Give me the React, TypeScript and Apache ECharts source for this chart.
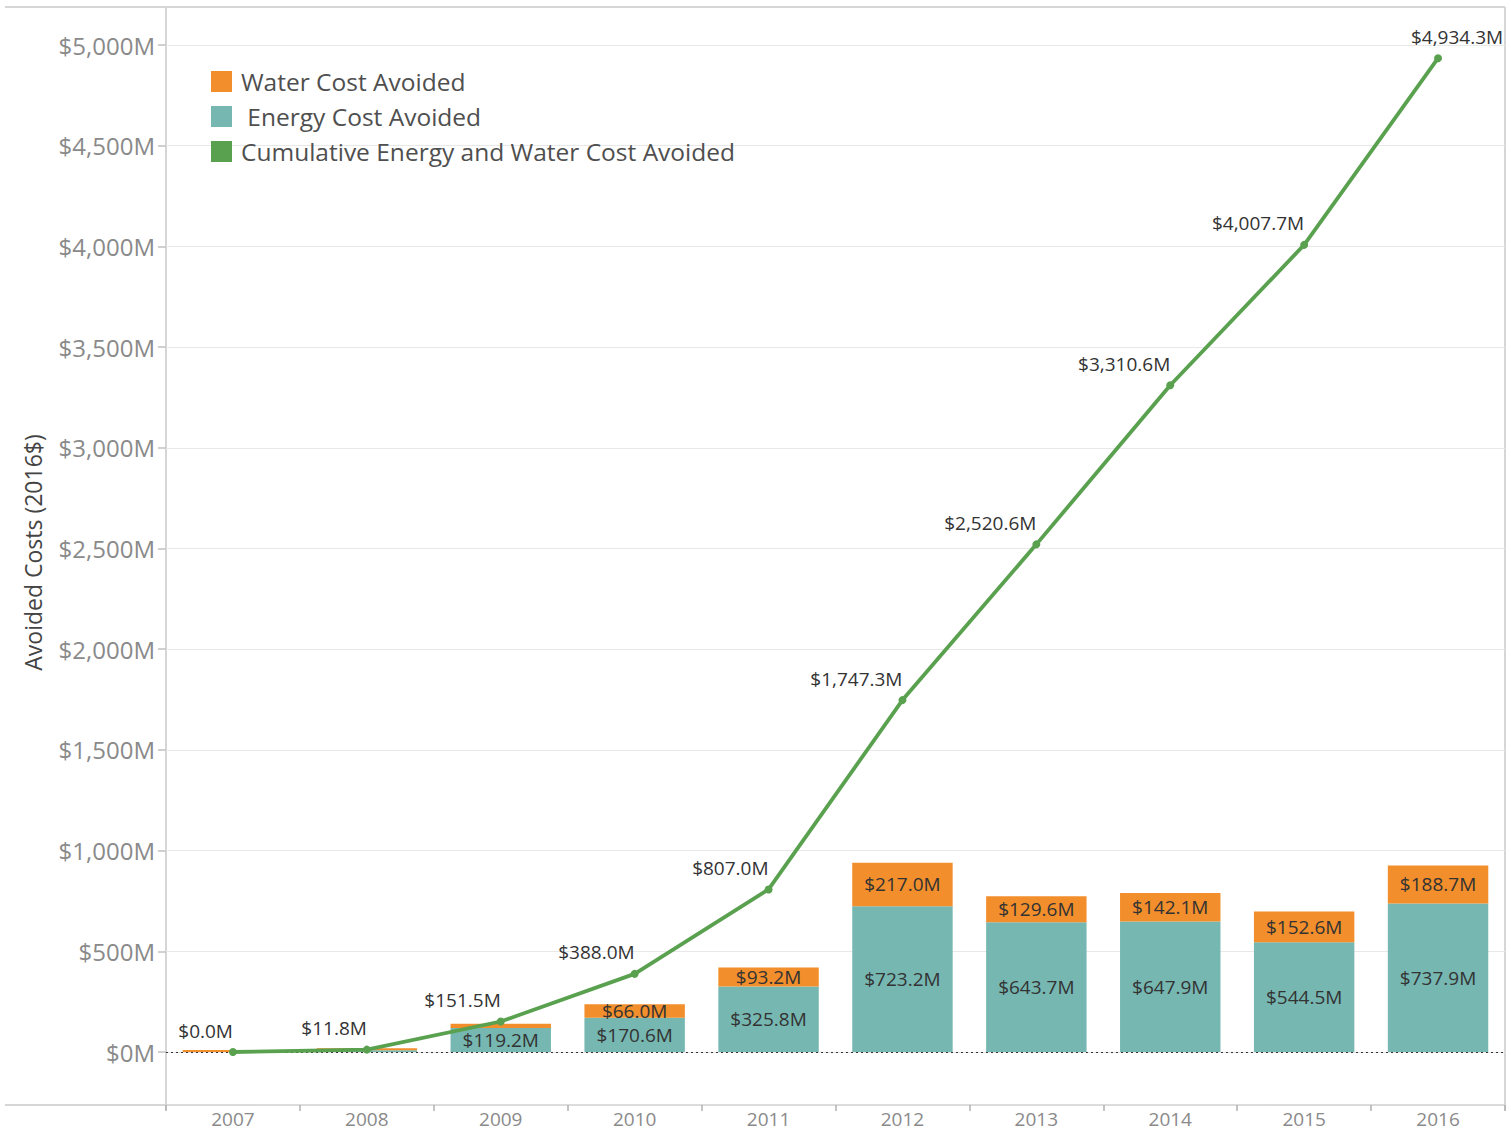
import React, { useEffect, useRef } from "react";
import * as echarts from "echarts";

const years = ["2007", "2008", "2009", "2010", "2011", "2012", "2013", "2014", "2015", "2016"];
const energyCost = [0, 8.6, 119.2, 170.6, 325.8, 723.2, 643.7, 647.9, 544.5, 737.9];
const waterCost = [0.04, 3.2, 20.5, 66.0, 93.2, 217.0, 129.6, 142.1, 152.6, 188.7];
const cumulative = [0.0, 11.8, 151.5, 388.0, 807.0, 1747.3, 2520.6, 3310.6, 4007.7, 4934.3];
const showBarLabel = [false, false, true, true, true, true, true, true, true, true];
const showWaterLabel = [false, false, false, true, true, true, true, true, true, true];

const FONT = "'Open Sans', 'Noto Sans', sans-serif";

const fmt = (v: number) =>
  "$" + v.toLocaleString("en-US", { minimumFractionDigits: 1, maximumFractionDigits: 1 }) + "M";

export default function App() {
  const ref = useRef<HTMLDivElement>(null);
  useEffect(() => {
    if (!ref.current) return;
    const chart = echarts.init(ref.current, null, { renderer: "svg" });
    const left = 166;
    const right = 6;
    const top = 45;
    const bottom = 79;
    const option: any = {
      animation: false,
      textStyle: { fontFamily: FONT },
      grid: { left, right, top, bottom, containLabel: false },
      legend: {
        left: 211,
        top: 69,
        padding: 0,
        orient: "vertical",
        itemWidth: 21,
        itemHeight: 21,
        itemGap: 10,
        icon: "rect",
        textStyle: { fontSize: 24.5, color: "#4f4f4f", fontFamily: FONT, padding: [0, 0, 0, 4] },
        data: [
          { name: "Water Cost Avoided" },
          { name: " Energy Cost Avoided" },
          { name: "Cumulative Energy and Water Cost Avoided" },
        ],
      },
      xAxis: {
        type: "category",
        data: years,
        offset: 53,
        axisLine: { show: true, onZero: false, lineStyle: { color: "#d0d0d0", width: 1.5 } },
        axisTick: { show: true, length: 6, lineStyle: { color: "#b0b0b0", width: 1.5 } },
        axisLabel: { fontSize: 19, color: "#8a8a8a", margin: 4, fontFamily: FONT },
      },
      yAxis: {
        type: "value",
        min: 0,
        max: 5000,
        interval: 500,
        name: "Avoided Costs (2016$)",
        nameLocation: "middle",
        nameGap: 122,
        nameTextStyle: { fontSize: 23, color: "#444", fontFamily: FONT, padding: [0, 8, 0, 0] },
        axisLine: { show: false },
        axisTick: { show: true, length: 8, lineStyle: { color: "#c0c0c0", width: 1.5 } },
        axisLabel: {
          fontSize: 24,
          color: "#8a8a8a",
          margin: 11,
          fontFamily: FONT,
          formatter: (v: number) => "$" + v.toLocaleString("en-US") + "M",
        },
        splitLine: {
          show: true,
          lineStyle: { color: "#e8e8e8", width: 1.2 },
        },
      },
      graphic: [
        { type: "line", shape: { x1: 5, y1: 7, x2: 1505, y2: 7 }, style: { stroke: "#d6d6d6", lineWidth: 2 } },
        { type: "line", shape: { x1: 1505, y1: 7, x2: 1505, y2: 1110 }, style: { stroke: "#d6d6d6", lineWidth: 2 } },
        { type: "line", shape: { x1: left, y1: 7, x2: left, y2: 1110 }, style: { stroke: "#d6d6d6", lineWidth: 2 } },
        { type: "line", shape: { x1: 5, y1: 1105, x2: left, y2: 1105 }, style: { stroke: "#d6d6d6", lineWidth: 2 } },
      ],
      series: [
        {
          name: " Energy Cost Avoided",
          type: "bar",
          stack: "cost",
          barWidth: "75%",
          itemStyle: { color: "#76b7b2" },
          data: energyCost.map((v, i) => ({
            value: v,
            label: { show: showBarLabel[i] },
          })),
          label: {
            position: "inside",
            fontSize: 19,
            color: "#333",
            fontFamily: FONT,
            formatter: (p: any) => fmt(p.value),
          },
          markLine: {
            silent: true,
            symbol: "none",
            label: { show: false },
            lineStyle: { color: "#333", type: [2, 3], width: 1.2 },
            data: [{ yAxis: 0 }],
          },
          z: 2,
        },
        {
          name: "Water Cost Avoided",
          type: "bar",
          stack: "cost",
          barWidth: "75%",
          barMinHeight: 2,
          itemStyle: { color: "#f28e2b" },
          data: waterCost.map((v, i) => ({
            value: v,
            label: { show: showWaterLabel[i] },
          })),
          label: {
            position: "inside",
            fontSize: 19,
            color: "#333",
            fontFamily: FONT,
            formatter: (p: any) => fmt(p.value),
          },
          z: 2,
        },
        {
          name: "Cumulative Energy and Water Cost Avoided",
          type: "line",
          data: cumulative.map((v, i) =>
            i === cumulative.length - 1
              ? { value: v, label: { align: "center", offset: [19, 0] } }
              : { value: v }
          ),
          itemStyle: { color: "#59a14f" },
          lineStyle: { color: "#59a14f", width: 3.8 },
          symbol: "circle",
          symbolSize: 8,
          label: {
            show: true,
            position: "top",
            align: "right",
            distance: 8,
            fontSize: 19,
            color: "#333",
            fontFamily: FONT,
            formatter: (p: any) => fmt(p.value),
          },
          z: 5,
        },
      ],
    };
    chart.setOption(option);
    return () => chart.dispose();
  }, []);
  return (
    <div
      ref={ref}
      style={{ position: "absolute", left: 0, top: 0, width: 1511, height: 1131, overflow: "hidden" }}
    />
  );
}
